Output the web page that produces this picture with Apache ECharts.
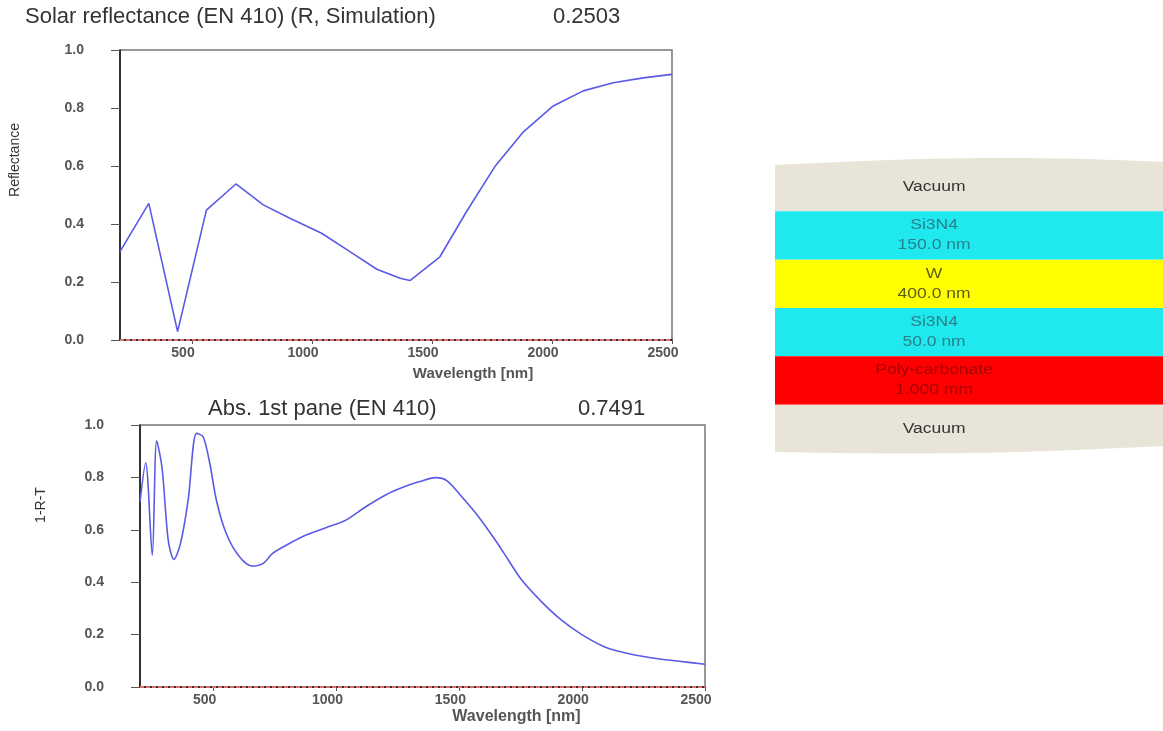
<!DOCTYPE html>
<html>
<head>
<meta charset="utf-8">
<script src="https://cdn.jsdelivr.net/npm/echarts@6/dist/echarts.min.js"></script>
<style>
html,body{margin:0;padding:0;background:#fff;}
#chart{width:1163px;height:731px;}
</style>
</head>
<body>
<div id="chart"></div>
<script>
// ---- data ----
const topTitle = 'Solar reflectance (EN 410) (R, Simulation)';
const topValue = '0.2503';
const botTitle = 'Abs. 1st pane (EN 410)';
const botValue = '0.7491';
const xTicks = [500, 1000, 1500, 2000, 2500];
const yTicks = [0, 0.2, 0.4, 0.6, 0.8, 1.0];

const topWl = [200, 320, 440, 560, 683, 797, 908, 1040, 1158, 1270, 1367, 1408, 1533, 1644, 1762, 1881, 2005, 2130, 2255, 2380, 2500];
const topR  = [0.305, 0.471, 0.029, 0.448, 0.538, 0.466, 0.420, 0.368, 0.305, 0.244, 0.213, 0.205, 0.287, 0.443, 0.598, 0.718, 0.807, 0.859, 0.887, 0.904, 0.916];

const botWl = [200, 223, 250, 268, 290, 315, 338, 365, 396, 430, 457, 484, 511, 551, 605, 659, 700, 740, 795, 876, 957, 1038, 1119, 1200, 1270, 1335, 1403, 1450, 1510, 1578, 1646, 1700, 1754, 1835, 1916, 1997, 2092, 2200, 2308, 2416, 2500];
const botA  = [0.707, 0.856, 0.503, 0.940, 0.834, 0.560, 0.487, 0.548, 0.713, 0.968, 0.955, 0.854, 0.713, 0.586, 0.497, 0.461, 0.471, 0.510, 0.541, 0.580, 0.608, 0.637, 0.688, 0.733, 0.762, 0.783, 0.799, 0.787, 0.726, 0.650, 0.561, 0.484, 0.408, 0.325, 0.255, 0.201, 0.153, 0.125, 0.108, 0.096, 0.087];

const transWl = [200, 2500];
const transT  = [0, 0];

const layerNames = ['Vacuum', 'Si3N4', 'W', 'Si3N4', 'Poly-carbonate', 'Vacuum'];
const layerThick = ['', '150.0 nm', '400.0 nm', '50.0 nm', '1.000 mm', ''];

// ---- styles ----
const FONT = '"Liberation Sans", Arial, sans-serif';
const materialStyle = {
  'Vacuum': {fill: '#e9e4d8', text: '#333333'},
  'Si3N4': {fill: '#1fe9ef', text: '#2a7f88'},
  'W': {fill: '#ffff00', text: '#5e5e14'},
  'Poly-carbonate': {fill: '#ff0000', text: '#a80000'}
};

const pairs = (xs, ys) => xs.map((x, i) => [x, ys[i]]);

function xAxisCfg(gridIndex, nameSize, namePadLeft, nameGap) {
  return {
    type: 'value', gridIndex, min: 200, max: 2500,
    name: 'Wavelength [nm]', nameLocation: 'middle', nameGap,
    nameTextStyle: {fontFamily: FONT, fontSize: nameSize, fontWeight: 'bold', color: '#555', padding: [0, 0, 0, namePadLeft]},
    axisLine: {show: true, onZero: false, lineStyle: {color: '#111', width: 1.5}},
    axisTick: {show: true, customValues: xTicks, length: 4, lineStyle: {color: '#555'}},
    axisLabel: {customValues: xTicks, formatter: v => String(v), fontFamily: FONT, fontSize: 14, fontWeight: 'bold', color: '#555', margin: 6, padding: [0, 18, 0, 0]},
    splitLine: {show: false}
  };
}
function yAxisCfg(gridIndex, name, nameGap, namePadLeft, labelPadBottom) {
  return {
    type: 'value', gridIndex, min: 0, max: 1, interval: 0.2,
    name, nameLocation: 'middle', nameGap, nameRotate: 90,
    nameTextStyle: {fontFamily: '"Liberation Sans Narrow", "Liberation Sans", sans-serif', fontSize: 14, color: '#333', padding: [0, 0, 0, namePadLeft]},
    axisLine: {show: true, lineStyle: {color: '#111', width: 1.5}},
    axisTick: {show: true, length: 9, lineStyle: {color: '#555'}},
    axisLabel: {fontFamily: FONT, fontSize: 14, fontWeight: 'bold', color: '#555', margin: 36,
      padding: [0, 0, labelPadBottom, 0], formatter: v => v.toFixed(1)},
    splitLine: {show: false}
  };
}

function renderLayer(params, api) {
  const idx = api.value(1);
  const c = api.coord([0, idx]);
  const c1 = api.coord([1, idx]);
  const h = api.size([0, 1])[1];
  const x0 = c[0], x1 = c1[0], yc = c[1];
  const yTop = yc - h / 2, yBot = yc + h / 2;
  const name = layerNames[idx];
  const st = materialStyle[name];
  const children = [];
  const n = layerNames.length;
  if (idx === 0 || idx === n - 1) {
    const pts = [];
    const N = 40;
    if (idx === 0) {
      for (let k = 0; k <= N; k++) {
        const t = k / N;
        pts.push([x0 + (x1 - x0) * t, yTop + 2 - 7 * Math.sin(Math.PI * t * 0.85)]);
      }
      pts.push([x1, yBot]); pts.push([x0, yBot]);
    } else {
      pts.push([x0, yTop]); pts.push([x1, yTop]);
      for (let k = N; k >= 0; k--) {
        const t = k / N;
        pts.push([x0 + (x1 - x0) * t, yBot - 1 + 4 * Math.sin(Math.PI * t) - 6 * t]);
      }
    }
    children.push({type: 'polygon', shape: {points: pts}, style: {fill: st.fill}});
  } else {
    children.push({type: 'rect', shape: {x: x0, y: yTop, width: x1 - x0, height: h}, style: {fill: st.fill}});
  }
  const tx = x0 + (x1 - x0) * 0.41;
  const thick = layerThick[idx];
  const texts = thick ? [[name, yc - 10], [thick, yc + 10]] : [[name, yc]];
  texts.forEach(([s, y]) => {
    children.push({type: 'text', x: tx, y: y, scaleX: 1.25,
      style: {text: s, fill: st.text, font: '14px ' + FONT, align: 'center', verticalAlign: 'middle'}});
  });
  return {type: 'group', children};
}

const chart = echarts.init(document.getElementById('chart'), null, {renderer: 'canvas'});
chart.setOption({
  animation: false,
  backgroundColor: '#fff',
  title: [
    {text: topTitle, left: 25, top: 6, padding: 0, textStyle: {fontFamily: FONT, fontSize: 22, fontWeight: 'normal', color: '#333'}},
    {text: topValue, left: 553, top: 6, padding: 0, textStyle: {fontFamily: FONT, fontSize: 22, fontWeight: 'normal', color: '#333'}},
    {text: botTitle, left: 208, top: 398, padding: 0, textStyle: {fontFamily: FONT, fontSize: 22, fontWeight: 'normal', color: '#333'}},
    {text: botValue, left: 578, top: 398, padding: 0, textStyle: {fontFamily: FONT, fontSize: 22, fontWeight: 'normal', color: '#333'}}
  ],
  grid: [
    {left: 120, top: 50, width: 552, height: 290, show: true, borderColor: '#777', borderWidth: 1.5, backgroundColor: '#fff'},
    {left: 140, top: 425, width: 565, height: 262, show: true, borderColor: '#777', borderWidth: 1.5, backgroundColor: '#fff'},
    {left: 775, top: 163, width: 388, height: 290}
  ],
  xAxis: [
    xAxisCfg(0, 15, 154, 26),
    xAxisCfg(1, 16, 188, 22),
    {type: 'value', gridIndex: 2, min: 0, max: 1, show: false}
  ],
  yAxis: [
    yAxisCfg(0, 'Reflectance', 98, 70, 10),
    yAxisCfg(1, '1-R-T', 92, 102, 6),
    {type: 'category', gridIndex: 2, data: layerNames.map((n, i) => i), inverse: true, show: false}
  ],
  series: [
    {type: 'line', xAxisIndex: 0, yAxisIndex: 0, data: pairs(transWl, transT), symbol: 'none',
      lineStyle: {color: '#e07070', width: 2, type: [4, 2]}, z: 3},
    {type: 'line', xAxisIndex: 0, yAxisIndex: 0, data: pairs(topWl, topR), symbol: 'none',
      lineStyle: {color: '#5a5ae6', width: 1.6}, z: 4},
    {type: 'line', xAxisIndex: 1, yAxisIndex: 1, data: pairs(transWl, transT), symbol: 'none',
      lineStyle: {color: '#e07070', width: 2, type: [4, 2]}, z: 3},
    {type: 'line', xAxisIndex: 1, yAxisIndex: 1, data: pairs(botWl, botA), symbol: 'none', smooth: 0.3,
      lineStyle: {color: '#5a5ae6', width: 1.6}, z: 4},
    {type: 'custom', xAxisIndex: 2, yAxisIndex: 2, renderItem: renderLayer,
      data: layerNames.map((n, i) => [1, i]), encode: {x: 0, y: 1}, silent: true}
  ]
});
</script>
</body>
</html>
